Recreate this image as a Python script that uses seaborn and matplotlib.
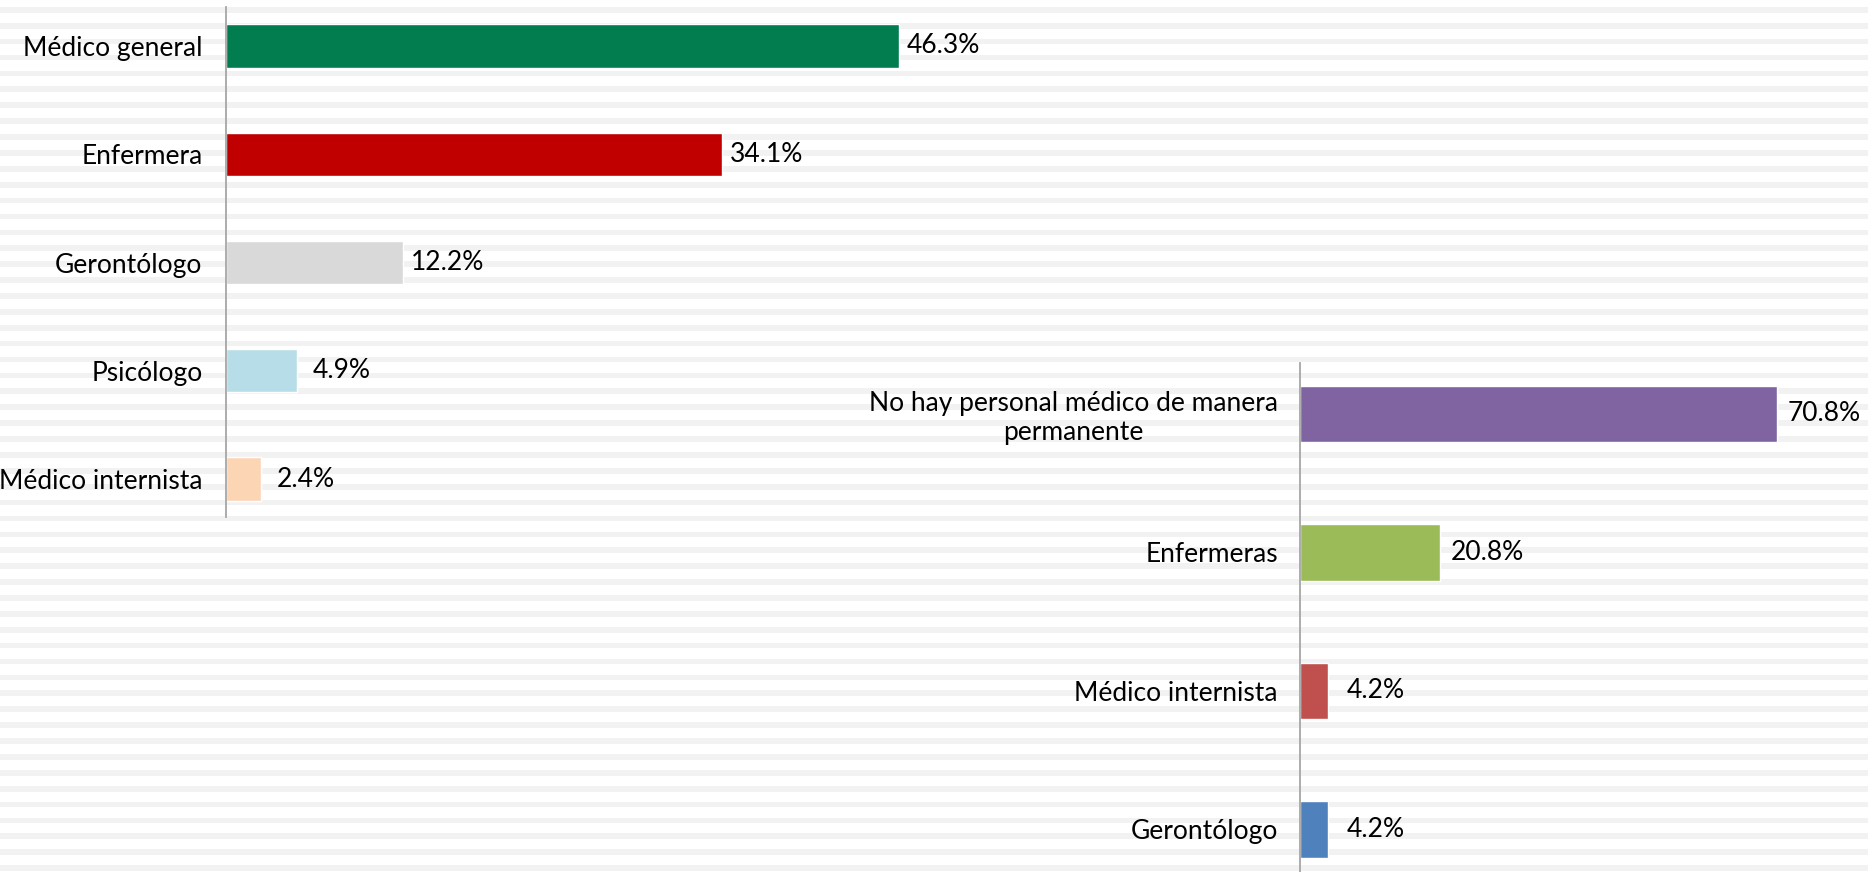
import matplotlib
matplotlib.use("Agg")
import matplotlib.pyplot as plt
import seaborn as sns
import pandas as pd

# ---- data ----
left_categories = ["Médico general", "Enfermera", "Gerontólogo", "Psicólogo", "Médico internista"]
left_values = [46.3, 34.1, 12.2, 4.9, 2.4]
left_colors = ["#017D50", "#C00000", "#D9D9D9", "#B7DEE8", "#FCD5B5"]

right_categories = ["No hay personal médico de manera\npermanente", "Enfermeras",
                    "Médico internista", "Gerontólogo"]
right_values = [70.8, 20.8, 4.2, 4.2]
right_colors = ["#8064A2", "#9BBB59", "#C0504D", "#4F81BD"]

W, H = 1868, 872
sns.set_theme(style="white")
plt.rcParams["font.family"] = ["Lato", "DejaVu Sans"]

fig = plt.figure(figsize=(W / 100, H / 100), dpi=100)
fig.patch.set_facecolor("white")

# striped background
bg = fig.add_axes([0, 0, 1, 1], zorder=-5)
bg.set_xlim(0, W)
bg.set_ylim(H, 0)
bg.axis("off")
k = 0
while 7 + 15.894 * k < H:
    y0 = 7 + 15.894 * k
    bg.axhspan(y0, y0 + 5.7, color="#F2F2F2", lw=0)
    k += 1


def px_axes(x0, y0, x1, y1):
    return fig.add_axes([x0 / W, 1 - y1 / H, (x1 - x0) / W, (y1 - y0) / H])


def draw(ax, cats, vals, cols, ppu, width, ylim, pad_lab, pad_val):
    df = pd.DataFrame({"cat": cats, "val": vals})
    sns.barplot(data=df, x="val", y="cat", hue="cat", palette=cols, order=cats,
                hue_order=cats, orient="h", width=width, legend=False,
                saturation=1, ax=ax)
    ax.set_facecolor("none")
    ax.patch.set_alpha(0)
    x0, x1 = ax.get_position().x0 * W, ax.get_position().x1 * W
    ax.set_xlim(0, (x1 - x0) / ppu)
    ax.set_ylim(*ylim)
    for c in ax.containers:
        anns = ax.bar_label(c, labels=[f"{v:.1f}%" for v in c.datavalues], padding=pad_val,
                            fontsize=19, color="black", clip_on=False)
        for a in anns:
            a.set_horizontalalignment("center")
    ax.set_xlabel("")
    ax.set_ylabel("")
    ax.set_xticks([])
    ax.tick_params(axis="y", length=0, pad=pad_lab, labelsize=19, labelcolor="black")
    for s in ["top", "right", "bottom"]:
        ax.spines[s].set_visible(False)
    ax.spines["left"].set_color("#A6A6A6")
    ax.spines["left"].set_linewidth(1.3)
    for t in ax.get_yticklabels():
        t.set_multialignment("center")
        t.set_linespacing(1.2)


axL = px_axes(226, 7, 1150, 517)
draw(axL, left_categories, left_values, left_colors, 14.54, 0.40, (4.35, -0.36), 17, 32)

axR = px_axes(1300, 363, W, H)
draw(axR, right_categories, right_values, right_colors, 6.735, 0.405, (3.307, -0.368), 16, 34)

fig.savefig("out.png", dpi=100, facecolor="white")
